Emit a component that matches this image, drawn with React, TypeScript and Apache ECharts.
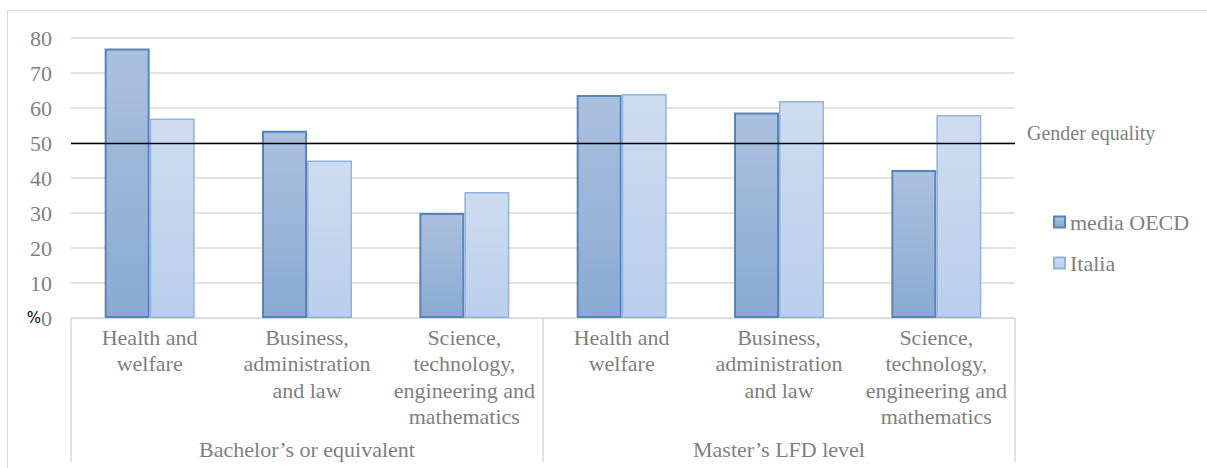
import React, { useEffect, useRef } from "react";
import * as echarts from "echarts";

const fields = [
  "Health and\nwelfare",
  "Business,\nadministration\nand law",
  "Science,\ntechnology,\nengineering and\nmathematics",
  "Health and\nwelfare",
  "Business,\nadministration\nand law",
  "Science,\ntechnology,\nengineering and\nmathematics",
];
const levels = ["Bachelor’s or equivalent", "Master’s LFD level"];
const oecd = [77, 53.5, 30, 63.7, 58.7, 42.3];
const italia = [57, 45, 36, 64, 62, 58];
const seriesNames = ["media OECD", "Italia"];
const equalityValue = 50;
const equalityLabel = "Gender equality";

const SERIF = "Liberation Serif";
const GRAY = "#7f7f7f";

export default function App() {
  const ref = useRef<HTMLDivElement>(null);
  useEffect(() => {
    if (!ref.current) return;
    const chart = echarts.init(ref.current, null, { renderer: "svg" });
    chart.setOption({
      animation: false,
      backgroundColor: "#ffffff",
      textStyle: { fontFamily: SERIF },
      graphic: [
        {
          type: "rect",
          z: -10,
          shape: { x: 7.5, y: 10.5, width: 1400, height: 700 },
          style: { fill: "none", stroke: "#d9d9d9", lineWidth: 1 },
          silent: true,
        },
      ],
      grid: { left: 71, right: 192, top: 38, bottom: 150 },
      legend: {
        orient: "vertical",
        left: 1048,
        top: 206,
        itemWidth: 11,
        itemHeight: 11,
        itemGap: 19,
        icon: "rect",
        textStyle: { fontFamily: SERIF, fontSize: 22, color: GRAY },
        data: seriesNames,
      },
      xAxis: [
        {
          type: "category",
          data: fields,
          position: "bottom",
          axisLine: { show: true, lineStyle: { color: "#d9d9d9", width: 1 } },
          axisTick: { show: false },
          axisLabel: {
            interval: 0,
            margin: 6,
            fontFamily: SERIF,
            fontSize: 22,
            lineHeight: 26.5,
            color: GRAY,
            align: "center",
          },
        },
        {
          type: "category",
          data: levels,
          position: "bottom",
          axisLine: { show: false },
          axisTick: {
            show: true,
            interval: 0,
            length: 144,
            lineStyle: { color: "#d9d9d9", width: 1.5 },
          },
          axisLabel: {
            interval: 0,
            margin: 118,
            fontFamily: SERIF,
            fontSize: 22,
            lineHeight: 26,
            color: GRAY,
          },
        },
      ],
      yAxis: {
        type: "value",
        min: 0,
        max: 80,
        interval: 10,
        axisLine: { show: false },
        axisTick: { show: false },
        splitLine: { lineStyle: { color: "#d9d9d9", width: 1.5 } },
        axisLabel: {
          margin: 19,
          fontFamily: SERIF,
          fontSize: 22,
          color: GRAY,
          formatter: (v: number) => (v === 0 ? "{p|%}0" : String(v)),
          rich: {
            p: {
              fontFamily: "DejaVu Sans",
              fontSize: 15,
              color: "#000000",
            },
          },
        },
      },
      series: [
        {
          name: seriesNames[0],
          type: "bar",
          data: oecd,
          barWidth: 45,
          barGap: "0%",
          itemStyle: {
            color: new echarts.graphic.LinearGradient(0, 0, 0, 1, [
              { offset: 0, color: "#abc0dd" },
              { offset: 1, color: "#8aaad3" },
            ]),
            borderColor: "#5584be",
            borderWidth: 2,
          },
          markLine: {
            silent: true,
            symbol: "none",
            data: [{ yAxis: equalityValue }],
            lineStyle: { color: "#000000", width: 1.3, type: "solid" },
            label: {
              show: true,
              position: "end",
              formatter: equalityLabel,
              distance: 12,
              offset: [0, -10],
              fontFamily: SERIF,
              fontSize: 20,
              color: GRAY,
            },
          },
        },
        {
          name: seriesNames[1],
          type: "bar",
          data: italia,
          barWidth: 45,
          itemStyle: {
            color: new echarts.graphic.LinearGradient(0, 0, 0, 1, [
              { offset: 0, color: "#cedcf0" },
              { offset: 1, color: "#b9cfeb" },
            ]),
            borderColor: "#93b3df",
            borderWidth: 1.5,
          },
        },
      ],
    });
    return () => chart.dispose();
  }, []);
  return (
    <div
      ref={ref}
      style={{ position: "fixed", left: 0, top: 0, width: 1207, height: 468, background: "#fff" }}
    />
  );
}
